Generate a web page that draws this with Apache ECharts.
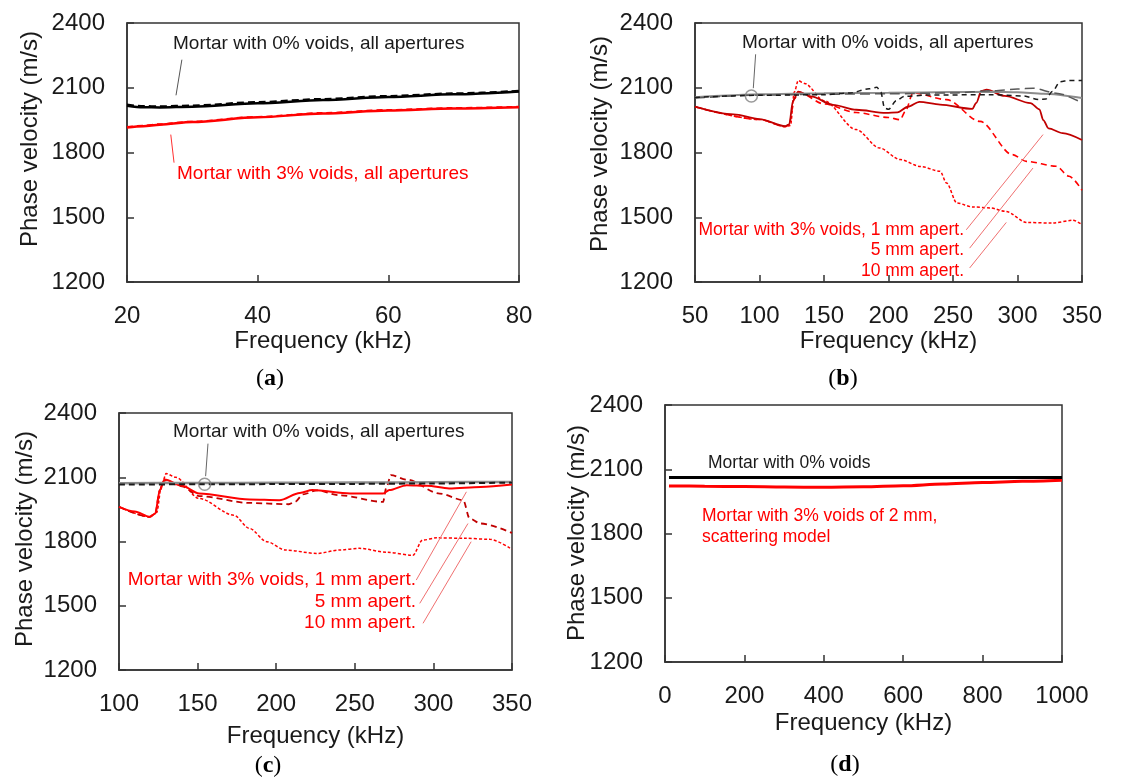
<!DOCTYPE html>
<html>
<head>
<meta charset="utf-8">
<title>Phase velocity vs frequency</title>
<script src="https://cdn.jsdelivr.net/npm/echarts@6/dist/echarts.min.js"></script>
<style>
  html, body { margin: 0; padding: 0; background: #fff; }
  #chart { width: 1127px; height: 780px; }
</style>
</head>
<body>
<div id="chart"></div>
<script>
// y ticks (all panels)
const velTicks = [1200, 1500, 1800, 2100, 2400];

// (a) 20-80 kHz
const aFreq = [20, 22.5, 25, 30, 40, 50, 60, 70, 80];
const aBlackSolid = [2017, 2010, 2009, 2012, 2028, 2043, 2057, 2070, 2083];
const aBlackDash = [2021, 2014, 2013, 2017, 2033, 2047, 2061, 2073, 2085];
const aRedSolid = [1916, 1922, 1929, 1941, 1963, 1981, 1995, 2004, 2010];
const aRedDash = [1918, 1924, 1931, 1943, 1965, 1983, 1997, 2006, 2012];

// (b) 50-350 kHz
const bGreyFreq = [50, 75, 100, 150, 200, 250, 280, 300, 320, 350];
const bGreySolid = [2056, 2064, 2070, 2075, 2077, 2080, 2081, 2079, 2072, 2052];
const bGreyDashFreq = [50, 100, 150, 200, 250, 280, 300, 312, 330, 350];
const bGreyDash = [2052, 2066, 2070, 2072, 2076, 2086, 2094, 2098, 2075, 2030];
const bBlackFreq = [50, 100, 150, 170, 185, 191, 194, 197, 200, 206, 212, 230, 280, 304, 317, 322, 327, 333, 340, 350];
const bBlackDash = [2055, 2065, 2068, 2076, 2095, 2102, 2080, 2005, 2000, 2040, 2060, 2066, 2068, 2062, 2045, 2048, 2083, 2128, 2134, 2134];
const bRed1Freq = [50, 80, 100, 120, 123, 126, 130, 140, 157, 175, 198, 207, 215, 224, 240, 265, 268, 272, 276, 290, 310, 317, 320, 324, 335, 350];
const bRed1 = [2013, 1977, 1955, 1922, 1930, 2040, 2082, 2060, 2021, 1998, 1984, 1986, 2012, 2035, 2022, 2002, 2030, 2085, 2091, 2062, 2029, 2000, 1950, 1912, 1890, 1858];
const bRed5Freq = [50, 100, 120, 123, 127, 131, 150, 175, 200, 209, 213, 219, 245, 271, 296, 307, 330, 340, 350];
const bRed5 = [2012, 1953, 1920, 1930, 2050, 2078, 2025, 1985, 1962, 1952, 1990, 2076, 2045, 1944, 1790, 1759, 1736, 1690, 1625];
const bRed10Freq = [50, 100, 120, 124, 127, 130, 135, 150, 175, 193, 209, 225, 240, 245, 253, 265, 279, 291, 307, 327, 343, 350];
const bRed10 = [2012, 1953, 1920, 1925, 2080, 2133, 2120, 2040, 1906, 1821, 1767, 1735, 1713, 1659, 1566, 1548, 1543, 1527, 1476, 1473, 1486, 1466];

// (c) 100-350 kHz
const cGreyFreq = [100, 150, 200, 250, 300, 350];
const cGreySolid = [2072, 2073, 2074, 2075, 2077, 2078];
const cBlackDash = [2066, 2067, 2068, 2069, 2071, 2075];
const cRed1Freq = [100, 110, 119.5, 123, 126, 129, 140, 151, 183, 202, 215, 223, 247, 268, 272, 283, 296, 310, 330, 350];
const cRed1 = [1962, 1940, 1915, 1930, 2040, 2089, 2060, 2024, 1996, 1993, 2027, 2040, 2024, 2024, 2040, 2063, 2060, 2048, 2055, 2066];
const cRed5Freq = [100, 119.5, 123, 126, 129, 140, 151, 183, 208, 212, 217, 226, 240, 268, 270, 273, 283, 304, 319, 323, 330, 350];
const cRed5 = [1962, 1915, 1930, 2040, 2085, 2058, 2012, 1980, 1974, 1985, 2020, 2039, 2016, 1985, 2050, 2110, 2089, 2024, 1993, 1908, 1884, 1840];
const cRed10Freq = [100, 119.5, 124, 127, 130, 136, 151, 173, 183, 194, 206, 226, 240, 253, 270, 287, 293, 302, 320, 336, 350];
const cRed10 = [1962, 1915, 1935, 2060, 2117, 2100, 2001, 1923, 1861, 1799, 1760, 1744, 1760, 1768, 1750, 1736, 1806, 1817, 1815, 1810, 1763];

// (d) 0-1000 kHz
const dFreq = [10, 100, 200, 300, 400, 500, 600, 700, 800, 900, 1000];
const dBlack = [2061, 2061, 2061, 2061, 2061, 2061, 2061, 2061, 2061, 2061, 2061];
const dRed = [2022, 2021, 2019, 2017, 2016, 2018, 2023, 2031, 2038, 2044, 2049];

// annotation anchors (data coords)
const bCircle = [[93.7, 2062]];
const cCircle = [[154.5, 2067]];

const zip = (xs, ys) => xs.map((x, i) => [x, ys[i]]);

const font = '"Liberation Sans", Arial, sans-serif';
const frame = '#333333';
const plain = v => String(v);

const grids = [
  { left: 127, top: 23, width: 392, height: 259 },
  { left: 695, top: 23, width: 387, height: 259 },
  { left: 119, top: 413, width: 393, height: 257 },
  { left: 665, top: 405, width: 397, height: 257 },
].map(g => Object.assign(g, { show: true, borderColor: frame, borderWidth: 1.5, backgroundColor: '#fff' }));

const xRanges = [[20, 80, 20, 43], [50, 350, 50, 43], [100, 350, 50, 54], [0, 1000, 200, 49]];

const xAxis = xRanges.map((r, i) => ({
  type: 'value', gridIndex: i, min: r[0], max: r[1], interval: r[2],
  name: 'Frequency (kHz)', nameLocation: 'middle', nameGap: r[3],
  nameTextStyle: { fontSize: 24, fontFamily: font, color: '#1a1a1a' },
  axisLine: { show: true, lineStyle: { color: frame, width: 1.5 } },
  axisTick: { show: true, inside: true, length: 7, lineStyle: { color: frame, width: 1.5 } },
  axisLabel: { fontSize: 24, fontFamily: font, color: '#1a1a1a', margin: 22, formatter: plain },
  splitLine: { show: false },
}));

const yAxis = [0, 1, 2, 3].map(i => ({
  type: 'value', gridIndex: i, min: velTicks[0], max: velTicks[velTicks.length - 1], interval: 300,
  axisLine: { show: true, lineStyle: { color: frame, width: 1.5 } },
  axisTick: { show: true, inside: true, length: 7, lineStyle: { color: frame, width: 1.5 } },
  axisLabel: { fontSize: 24, fontFamily: font, color: '#1a1a1a', margin: 22, formatter: plain },
  splitLine: { show: false },
}));

function line(idx, xs, ys, color, width, type, extra) {
  return Object.assign({
    type: 'line', xAxisIndex: idx, yAxisIndex: idx,
    data: zip(xs, ys), showSymbol: false, smooth: 0.3, smoothMonotone: 'x',
    lineStyle: { color: color, width: width, type: type || 'solid' },
    silent: true, z: 3,
  }, extra || {});
}

function leaders(list, color) {
  return {
    silent: true, symbol: 'none', label: { show: false },
    lineStyle: { color: color, width: 1, type: 'solid' },
    data: list.map(s => [{ coord: s[0] }, { coord: s[1] }]),
  };
}

const series = [
  // (a)
  line(0, aFreq, aRedDash, '#ff0000', 2, [6, 4]),
  line(0, aFreq, aRedSolid, '#ff0000', 2.5, 'solid', {
    markLine: leaders([[[26.7, 1883], [27.2, 1753]]], '#ff3030'),
  }),
  line(0, aFreq, aBlackSolid, '#000000', 2.5),
  line(0, aFreq, aBlackDash, '#000000', 2.5, [7, 4], {
    markLine: leaders([[[28.4, 2230], [27.5, 2065]]], '#555555'),
  }),
  // (b)
  line(1, bRed10Freq, bRed10, '#ff0000', 1.5, [3, 2]),
  line(1, bRed5Freq, bRed5, '#ff0000', 1.6, [6, 4]),
  line(1, bRed1Freq, bRed1, '#c00000', 1.8, 'solid', {
    markLine: leaders([
      [[260.3, 1442], [319.8, 1883]],
      [[262.9, 1357], [312, 1728]],
      [[262.9, 1265], [291.3, 1476]],
    ], '#f07070'),
  }),
  line(1, bGreyFreq, bGreySolid, '#8c8c8c', 2),
  line(1, bGreyDashFreq, bGreyDash, '#595959', 1.5, [10, 5]),
  line(1, bBlackFreq, bBlackDash, '#1a1a1a', 1.5, [5, 4], {
    markLine: leaders([[[95.2, 2098], [97, 2255]]], '#666666'),
  }),
  {
    type: 'scatter', xAxisIndex: 1, yAxisIndex: 1, data: bCircle, symbol: 'circle', symbolSize: 12,
    itemStyle: { color: 'rgba(255,255,255,0)', borderColor: '#808080', borderWidth: 1.5 }, silent: true, z: 5,
  },
  // (c)
  line(2, cRed10Freq, cRed10, '#ff0000', 1.5, [3, 2]),
  line(2, cRed5Freq, cRed5, '#c00000', 1.8, [6, 4]),
  line(2, cRed1Freq, cRed1, '#ff0000', 2, 'solid', {
    markLine: leaders([
      [[289.1, 1620], [321, 2032]],
      [[291.3, 1511], [322, 1884]],
      [[293.4, 1418], [324, 1799]],
    ], '#f07070'),
  }),
  line(2, cGreyFreq, cGreySolid, '#8c8c8c', 2.5),
  line(2, cGreyFreq, cBlackDash, '#1a1a1a', 2, [6, 4], {
    markLine: leaders([[[155.1, 2105], [156.6, 2257]]], '#666666'),
  }),
  {
    type: 'scatter', xAxisIndex: 2, yAxisIndex: 2, data: cCircle, symbol: 'circle', symbolSize: 12,
    itemStyle: { color: 'rgba(255,255,255,0)', borderColor: '#808080', borderWidth: 1.5 }, silent: true, z: 5,
  },
  // (d)
  line(3, dFreq, dRed, '#ff0000', 3),
  line(3, dFreq, dBlack, '#000000', 3),
];

function txt(text, x, y, size, color, align) {
  return {
    type: 'text', x: x, y: y, silent: true, z: 10,
    style: { text: text, fill: color, font: size + 'px ' + font, textAlign: align || 'left', verticalAlign: 'middle' },
  };
}
function yTitle(x, y) {
  return {
    type: 'text', x: x, y: y, rotation: Math.PI / 2, silent: true, z: 10,
    style: { text: 'Phase velocity (m/s)', fill: '#1a1a1a', font: '24px ' + font, textAlign: 'center', verticalAlign: 'middle' },
  };
}
function panelTag(letter, x, y) {
  return {
    type: 'text', x: x, y: y, silent: true, z: 10,
    style: {
      text: '{p|(}{b|' + letter + '}{p|)}', textAlign: 'center', verticalAlign: 'middle',
      rich: {
        p: { fontSize: 24, fontFamily: '"Liberation Serif", serif', fill: '#000', color: '#000' },
        b: { fontSize: 24, fontFamily: '"Liberation Serif", serif', fontWeight: 'bold', fill: '#000', color: '#000' },
      },
    },
  };
}

const red = '#ff0000';
const black = '#1a1a1a';
const graphic = [
  yTitle(30, 139), yTitle(600, 144), yTitle(25, 539), yTitle(577, 533),
  panelTag('a', 270, 379), panelTag('b', 843, 379), panelTag('c', 268, 766), panelTag('d', 845, 765),
  txt('Mortar with 0% voids, all apertures', 173, 44, 19, black),
  txt('Mortar with 3% voids, all apertures', 177, 174, 19, red),
  txt('Mortar with 0% voids, all apertures', 742, 43, 19, black),
  txt('Mortar with 3% voids, 1 mm apert.', 964, 230, 17.5, red, 'right'),
  txt('5 mm apert.', 964, 250, 17.5, red, 'right'),
  txt('10 mm apert.', 964, 271, 17.5, red, 'right'),
  txt('Mortar with 0% voids, all apertures', 173, 432, 19, black),
  txt('Mortar with 3% voids, 1 mm apert.', 416, 580, 19, red, 'right'),
  txt('5 mm apert.', 416, 602, 19, red, 'right'),
  txt('10 mm apert.', 416, 623, 19, red, 'right'),
  txt('Mortar with 0% voids', 708, 463, 17.5, black),
  txt('Mortar with 3% voids of 2 mm,', 702, 516, 17.5, red),
  txt('scattering model', 702, 537, 17.5, red),
];

const chart = echarts.init(document.getElementById('chart'), null, { renderer: 'canvas' });
chart.setOption({
  animation: false,
  backgroundColor: '#ffffff',
  grid: grids,
  xAxis: xAxis,
  yAxis: yAxis,
  series: series,
  graphic: graphic,
});
</script>
</body>
</html>
